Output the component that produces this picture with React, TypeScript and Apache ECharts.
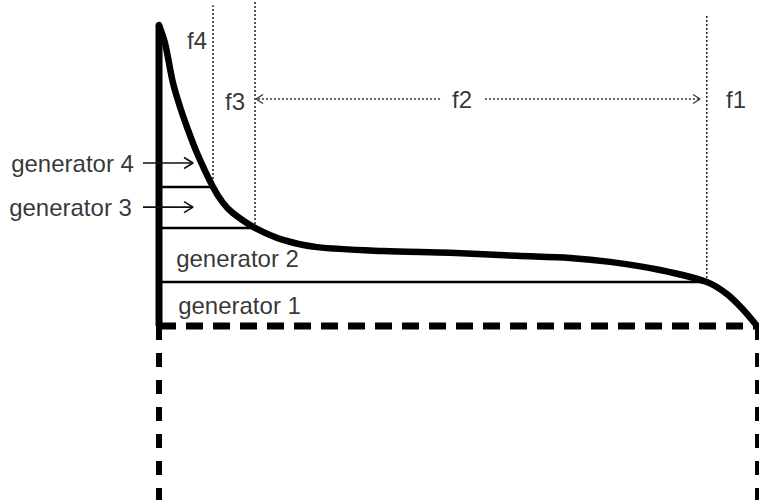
import React, { useEffect, useRef } from "react";
import * as echarts from "echarts";

// Load-duration curve (x: % of time, y: load %)
const curveX = [0, 1.0, 2.34, 3.51, 4.68, 6.35, 9.03, 10.7, 12.37, 16.05, 20.74, 26.42, 37.46, 48.66, 59.87, 68.73, 75.42, 83.78, 91.6, 94.98, 97.66, 100];
const curveY = [100, 94.0, 80.7, 72.8, 66.1, 57.5, 46.2, 40.9, 37.5, 32.6, 28.6, 26.2, 24.9, 24.3, 23.3, 22.6, 21.3, 18.6, 14.6, 10.6, 5.5, 0];

// generator boundaries: load level and the time where it meets the curve
const levelY = [46.2, 32.6, 14.6];
const levelX = [9.03, 16.05, 91.6];
// tops of the dotted frequency lines
const dottedTop = [106.6, 108.3, 103.65];

// f2 arrow (y level, tails and tips)
const f2Y = 75.4;
const f2Left = [47.0, 16.22];
const f2Right = [54.5, 90.47];

// generator arrows
const genArrowY = [54.15, 39.5];
const genArrowX = [-2.68, 5.69];

// labels
const labelText = ["generator 4", "generator 3", "generator 2", "generator 1", "f4", "f3", "f2", "f1"];
const labelX = [-14.46, -14.8, 13.13, 13.46, 6.35, 12.71, 50.67, 96.49];
const labelY = [54.15, 39.5, 22.4, 6.8, 95.0, 74.75, 75.4, 75.1];

const X_MIN = -26.59;
const X_MAX = 100.33;
const Y_MIN = -57.81;
const Y_MAX = 108.31;
const W = 759;
const H = 500;

export default function App() {
  const ref = useRef<HTMLDivElement>(null);
  useEffect(() => {
    if (!ref.current) return;
    const chart = echarts.init(ref.current, undefined, { renderer: "svg" });
    const pxX = W / (X_MAX - X_MIN);
    const pxY = H / (Y_MAX - Y_MIN);

    const seg = (data: number[][], style: any, extra: any = {}) => ({
      type: "line",
      data,
      symbol: "none",
      silent: true,
      lineStyle: style,
      z: 2,
      ...extra,
    });

    const head = (tailX: number, tipX: number, y: number, len: number, half: number) => {
      const dir = tipX > tailX ? 1 : -1;
      return [
        [tipX - (dir * len) / pxX, y + half / pxY],
        [tipX, y],
        [tipX - (dir * len) / pxX, y - half / pxY],
      ];
    };

    const series: any[] = [];
    // solid left axis
    series.push(seg([[0, 0], [0, 100]], { color: "#000", width: 7 }));
    // dashed bottom
    series.push(seg([[0, 0], [100, 0]], { color: "#000", width: 7, type: [17, 10] }));
    // dashed lower verticals
    series.push(seg([[0, 0], [0, Y_MIN]], { color: "#000", width: 6, type: [14, 13] }));
    series.push(seg([[100, 0], [100, Y_MIN]], { color: "#000", width: 4, type: [14, 13] }));
    // generator level lines
    levelY.forEach((y, i) => {
      series.push(seg([[0, y], [levelX[i], y]], { color: "#000", width: 2.5 }));
    });
    // dotted verticals
    levelX.forEach((x, i) => {
      series.push(seg([[x, levelY[i]], [x, dottedTop[i]]], { color: "#333", width: 1.6, type: [2, 2] }));
    });
    // f2 arrows
    [f2Left, f2Right].forEach((a) => {
      series.push(seg([[a[0], f2Y], [a[1], f2Y]], { color: "#333", width: 1.4, type: [2, 2] }));
      series.push(seg(head(a[0], a[1], f2Y, 7, 4.5), { color: "#333", width: 1.2 }));
    });
    // generator arrows
    genArrowY.forEach((y) => {
      series.push(seg([[genArrowX[0], y], [genArrowX[1], y]], { color: "#111", width: 1.6 }));
      series.push(seg(head(genArrowX[0], genArrowX[1], y, 9, 5.5), { color: "#111", width: 1.6 }));
    });
    // the curve
    series.push(
      seg(
        curveX.map((x, i) => [x, curveY[i]]),
        { color: "#000", width: 6.5, cap: "round", join: "round" },
        { smooth: 0.3, z: 5 }
      )
    );
    // labels
    series.push({
      type: "scatter",
      silent: true,
      symbolSize: 1,
      itemStyle: { color: "rgba(0,0,0,0)" },
      z: 6,
      data: labelText.map((t, i) => ({ value: [labelX[i], labelY[i]], name: t })),
      label: {
        show: true,
        position: "inside",
        formatter: (p: any) => p.name,
        color: "#000",
        fontSize: 24,
        fontFamily: "'Liberation Sans', Arial, sans-serif",
      },
      labelLayout: { hideOverlap: false },
    });

    chart.setOption({
      animation: false,
      backgroundColor: "#fff",
      grid: { left: 0, right: 0, top: 0, bottom: 0, containLabel: false },
      xAxis: { type: "value", min: X_MIN, max: X_MAX, show: false },
      yAxis: { type: "value", min: Y_MIN, max: Y_MAX, show: false },
      series,
    });
    return () => chart.dispose();
  }, []);
  return (
    <div
      ref={ref}
      style={{ position: "absolute", left: 0, top: 0, width: W, height: H }}
    />
  );
}
